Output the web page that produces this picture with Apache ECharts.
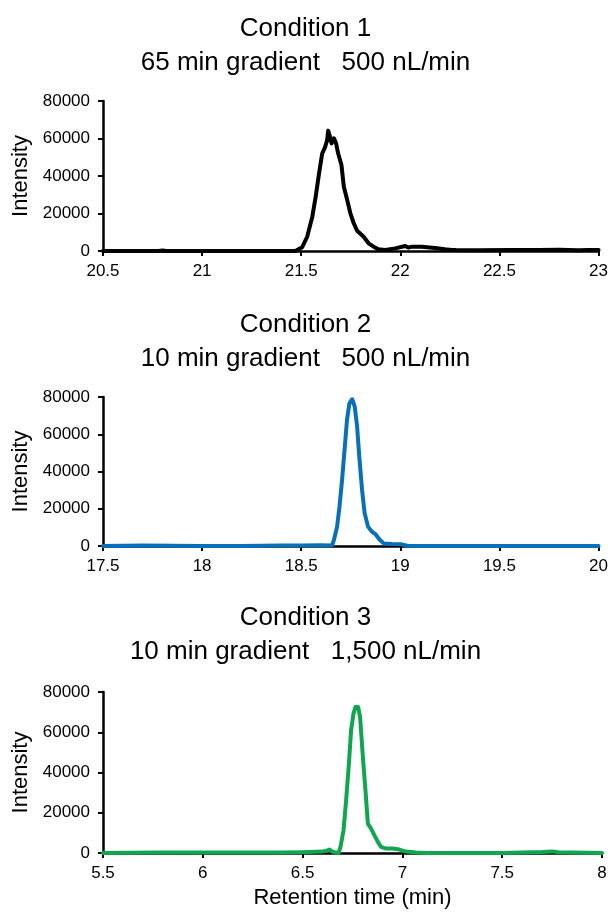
<!DOCTYPE html>
<html>
<head>
<meta charset="utf-8">
<script src="https://cdn.jsdelivr.net/npm/echarts@6/dist/echarts.min.js"></script>
<style>html,body{margin:0;padding:0;background:#fff;}#main{width:611px;height:912px;}</style>
</head>
<body>
<div id="main"></div>
<script>
// ---- Data ----
var titles1 = ["Condition 1", "65 min gradient   500 nL/min"];
var titles2 = ["Condition 2", "10 min gradient   500 nL/min"];
var titles3 = ["Condition 3", "10 min gradient   1,500 nL/min"];
var yTicks = [0, 20000, 40000, 60000, 80000];
var xRange1 = [20.5, 23];
var xRange2 = [17.5, 20];
var xRange3 = [5.5, 8];
var yAxisName = "Intensity";
var xAxisName = "Retention time (min)";

var c1Time = [20.5, 20.78, 20.8, 20.82, 21.2, 21.47, 21.48, 21.505, 21.53, 21.556, 21.573, 21.59, 21.606, 21.62, 21.631, 21.636, 21.645, 21.653, 21.665, 21.676, 21.686, 21.703, 21.715, 21.732, 21.748, 21.765, 21.782, 21.815, 21.84, 21.865, 21.89, 21.924, 21.974, 22.025, 22.04, 22.058, 22.108, 22.175, 22.225, 22.26, 22.27, 22.28, 22.4, 22.55, 22.7, 22.8, 22.9, 22.95, 23];
var c1Int  = [0, 0, 300, 0, 0, 0, 500, 2000, 7600, 18300, 29000, 41400, 52100, 55300, 59200, 64200, 61000, 57400, 60100, 57400, 52100, 45900, 34300, 27200, 20100, 14800, 10800, 7600, 4100, 2300, 900, 500, 1400, 2700, 1800, 2300, 2300, 1600, 900, 600, 1100, 500, 400, 500, 500, 700, 400, 600, 500];

var c2Time = [17.5, 17.7, 18.0, 18.2, 18.4, 18.5, 18.6, 18.64, 18.656, 18.665, 18.681, 18.693, 18.706, 18.72, 18.731, 18.743, 18.757, 18.77, 18.782, 18.793, 18.807, 18.82, 18.837, 18.857, 18.874, 18.894, 18.916, 18.957, 19.007, 19.04, 19.5, 20];
var c2Int  = [0, 300, 0, 0, 300, 300, 400, 300, 500, 3200, 10400, 21100, 35400, 53300, 67700, 76600, 78800, 74800, 64100, 47900, 30100, 17600, 10400, 7700, 6400, 3600, 1400, 1100, 900, 0, 0, 0];

var c3Time = [5.5, 5.78, 6.15, 6.4, 6.5, 6.6, 6.62, 6.635, 6.652, 6.68, 6.69, 6.705, 6.718, 6.732, 6.743, 6.755, 6.765, 6.778, 6.788, 6.802, 6.815, 6.827, 6.843, 6.86, 6.877, 6.893, 6.918, 6.952, 6.985, 7.018, 7.068, 7.12, 7.5, 7.7, 7.75, 7.78, 8];
var c3Int  = [0, 300, 300, 300, 400, 700, 1200, 1700, 500, 0, 3000, 11300, 26100, 44400, 61000, 69300, 72600, 72600, 67600, 47700, 31100, 14600, 12100, 8800, 5500, 3000, 2200, 2200, 1700, 700, 300, 0, 0, 500, 800, 400, 0];

function zip(a, b) { return a.map(function (v, i) { return [v, b[i]]; }); }

var FONT = "Liberation Sans, Arial, sans-serif";
var grids = [
  { left: 103, width: 499, top: 101, height: 150 },
  { left: 103, width: 499, top: 397, height: 149 },
  { left: 103, width: 499, top: 692, height: 161 }
];
var titleTops = [[14, 48], [310, 344], [603, 637]];
var titleTexts = [titles1, titles2, titles3];
var ranges = [xRange1, xRange2, xRange3];
var colors = ["#000000", "#0870BA", "#10A64F"];
var datas = [zip(c1Time, c1Int), zip(c2Time, c2Int), zip(c3Time, c3Int)];

function axisCommon() {
  return {
    axisLine: { show: true, onZero: false, lineStyle: { color: "#000", width: 2.5 } },
    axisTick: { show: true, inside: false, length: 5, lineStyle: { color: "#000", width: 2 } },
    splitLine: { show: false },
    axisLabel: { color: "#000", fontSize: 17, fontFamily: FONT }
  };
}

var xAxes = [], yAxes = [], series = [], titleArr = [];
for (var i = 0; i < 3; i++) {
  var xa = axisCommon();
  xa.type = "value"; xa.gridIndex = i;
  xa.min = ranges[i][0]; xa.max = ranges[i][1]; xa.interval = 0.5;
  xa.axisLabel.margin = 12;
  if (i === 2) {
    xa.name = xAxisName; xa.nameLocation = "middle"; xa.nameGap = 34;
    xa.nameTextStyle = { color: "#000", fontSize: 22, fontFamily: FONT };
  }
  xAxes.push(xa);
  var ya = axisCommon();
  ya.type = "value"; ya.gridIndex = i;
  ya.min = yTicks[0]; ya.max = yTicks[yTicks.length - 1]; ya.interval = yTicks[1] - yTicks[0];
  ya.axisLabel.margin = 13;
  ya.axisLabel.formatter = function (v) { return String(v); };
  ya.name = yAxisName; ya.nameLocation = "middle"; ya.nameGap = 57; ya.nameRotate = 90;
  ya.nameTextStyle = { color: "#000", fontSize: 22, fontFamily: FONT };
  yAxes.push(ya);
  series.push({
    type: "line", xAxisIndex: i, yAxisIndex: i, data: datas[i],
    showSymbol: false, symbol: "none", smooth: false,
    lineStyle: { color: colors[i], width: 4, join: "round", cap: "round" },
    z: 3, animation: false
  });
  for (var j = 0; j < 2; j++) {
    titleArr.push({
      text: titleTexts[i][j], left: "center", top: titleTops[i][j], padding: 0,
      textStyle: { color: "#000", fontSize: 26, fontWeight: "normal", fontFamily: FONT, lineHeight: 30 }
    });
  }
}

var chart = echarts.init(document.getElementById("main"), null, { renderer: "canvas" });
chart.setOption({
  animation: false,
  backgroundColor: "#fff",
  title: titleArr,
  grid: grids,
  xAxis: xAxes,
  yAxis: yAxes,
  series: series
});
</script>
</body>
</html>
